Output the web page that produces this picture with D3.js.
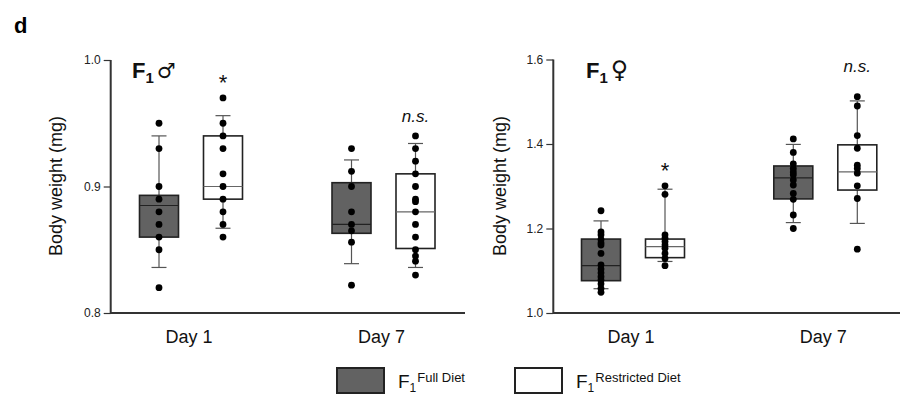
<!DOCTYPE html>
<html>
<head>
<meta charset="utf-8">
<script src="https://cdn.jsdelivr.net/npm/d3@7"></script>
<style>
  body { margin: 0; background: #fff; }
  svg { display: block; font-family: Arial, 'Liberation Sans', sans-serif; }
</style>
</head>
<body>
<div id="chart"></div>
<script>
// Categories
const days = ['Day 1', 'Day 7'];
const diets = ['Full Diet', 'Restricted Diet'];

// Box stats: [lower whisker, q1, median, q3, upper whisker]
const maleBoxD1Full = [0.836, 0.86, 0.885, 0.893, 0.94];
const maleBoxD1Restr = [0.867, 0.89, 0.9, 0.94, 0.956];
const maleBoxD7Full = [0.839, 0.863, 0.87, 0.903, 0.921];
const maleBoxD7Restr = [0.836, 0.851, 0.88, 0.91, 0.934];

const femaleBoxD1Full = [1.0575, 1.0765, 1.112, 1.175, 1.218];
const femaleBoxD1Restr = [1.122, 1.131, 1.157, 1.175, 1.293];
const femaleBoxD7Full = [1.214, 1.27, 1.32, 1.348, 1.399];
const femaleBoxD7Restr = [1.212, 1.291, 1.334, 1.398, 1.502];

// Individual body weights (mg)
const maleDotsD1Full = [0.95, 0.93, 0.9, 0.89, 0.88, 0.87, 0.86, 0.85, 0.82];
const maleDotsD1Restr = [0.97, 0.95, 0.94, 0.93, 0.91, 0.9, 0.89, 0.88, 0.87, 0.86];
const maleDotsD7Full = [0.93, 0.912, 0.9, 0.88, 0.87, 0.865, 0.856, 0.822];
const maleDotsD7Restr = [0.94, 0.93, 0.92, 0.91, 0.9, 0.89, 0.888, 0.88, 0.87, 0.86, 0.85, 0.845, 0.841, 0.83];

const femaleDotsD1Full = [1.242, 1.192, 1.185, 1.174, 1.166, 1.161, 1.141, 1.114, 1.104, 1.095, 1.086, 1.078, 1.069, 1.058, 1.049];
const femaleDotsD1Restr = [1.301, 1.281, 1.185, 1.177, 1.169, 1.161, 1.153, 1.141, 1.129, 1.112];
const femaleDotsD7Full = [1.412, 1.38, 1.353, 1.342, 1.334, 1.327, 1.315, 1.303, 1.283, 1.269, 1.232, 1.2];
const femaleDotsD7Restr = [1.512, 1.49, 1.42, 1.39, 1.35, 1.342, 1.331, 1.301, 1.271, 1.151];

// Tick labels
const maleTicks = [0.8, 0.9, 1.0];
const femaleTicks = [1.0, 1.2, 1.4, 1.6];

// Significance labels per day (restricted vs full) and the level they sit at
const maleSig = ['*', 'n.s.'];
const maleSigLevel = [0.976, 0.951];
const femaleSig = ['*', 'n.s.'];
const femaleSigLevel = [1.3195, 1.57];

const W = 900, H = 396;
const svg = d3.select('#chart').append('svg').attr('width', W).attr('height', H);

// panel letter
svg.append('text').attr('x', 14).attr('y', 33)
  .style('font-size', '22px').style('font-weight', 'bold').text('d');

function drawPanel(opts) {
  const y = d3.scaleLinear().domain(opts.domain).range([313, opts.top]);
  const x = d3.scalePoint().domain(days).range(opts.dayRange);
  const dx = d3.scalePoint().domain(diets).range([-32, 32]);
  const boxW = 39;

  const g = svg.append('g');

  // Y axis
  const yAxis = g.append('g')
    .attr('transform', 'translate(' + opts.x0 + ',0)')
    .call(d3.axisLeft(y).tickValues(opts.ticks).tickFormat(d3.format('.1f')).tickSize(7).tickSizeOuter(0));
  yAxis.select('.domain').remove();
  yAxis.selectAll('.tick line').attr('stroke', '#333').attr('stroke-width', 1.2);
  yAxis.selectAll('.tick text').attr('x', -10).style('font-size', '12px')
    .style('font-family', 'Arial, "Liberation Sans", sans-serif').attr('fill', '#222');

  // axis lines
  g.append('path')
    .attr('d', 'M' + opts.x0 + ',' + y(opts.domain[1]) + 'V' + y(opts.domain[0]) + 'H' + opts.x1)
    .attr('fill', 'none').attr('stroke', '#333').attr('stroke-width', 2);

  // X labels
  g.selectAll('.day').data(days).enter().append('text')
    .attr('x', (d) => x(d) - 2).attr('y', 343)
    .attr('text-anchor', 'middle').style('font-size', '18px').attr('fill', '#111')
    .text((d) => d);

  // Y label
  g.append('text')
    .attr('transform', 'translate(' + opts.labelX + ',186) rotate(-90)')
    .attr('text-anchor', 'middle').style('font-size', '18px').attr('fill', '#111')
    .text('Body weight (mg)');

  // Boxes
  opts.groups.forEach((grp) => {
    const cx = x(grp.day) + dx(grp.diet);
    const s = grp.box;
    const full = grp.diet === 'Full Diet';
    // whisker line
    g.append('line').attr('x1', cx).attr('x2', cx)
      .attr('y1', y(s[0])).attr('y2', y(s[4]))
      .attr('stroke', '#555').attr('stroke-width', 1.2);
    [s[0], s[4]].forEach((v) => {
      g.append('line').attr('x1', cx - 7.5).attr('x2', cx + 7.5)
        .attr('y1', y(v)).attr('y2', y(v))
        .attr('stroke', '#555').attr('stroke-width', 1.2);
    });
    g.append('rect')
      .attr('x', cx - boxW / 2).attr('width', boxW)
      .attr('y', y(s[3])).attr('height', y(s[1]) - y(s[3]))
      .attr('fill', full ? '#626262' : '#fff')
      .attr('stroke', '#222').attr('stroke-width', 1.6);
    g.append('line').attr('x1', cx - boxW / 2).attr('x2', cx + boxW / 2)
      .attr('y1', y(s[2])).attr('y2', y(s[2]))
      .attr('stroke', full ? '#222' : '#666').attr('stroke-width', 1.2);
    // dots
    g.selectAll(null).data(grp.dots).enter().append('circle')
      .attr('cx', cx).attr('cy', (d) => y(d)).attr('r', 3.4).attr('fill', '#000');
  });

  // significance
  days.forEach((d, i) => {
    const isStar = opts.sig[i] === '*';
    g.append('text')
      .attr('x', x(d) + dx('Restricted Diet'))
      .attr('y', y(opts.sigLevel[i]))
      .attr('text-anchor', 'middle')
      .style('font-size', isStar ? '22px' : '17px')
      .style('font-style', isStar ? 'normal' : 'italic')
      .attr('fill', '#111')
      .text(opts.sig[i]);
  });

  // panel title F1 + sex symbol
  const t = g.append('text').attr('x', opts.titleX).attr('y', 78).attr('fill', '#111');
  t.append('tspan').style('font-size', '22px').style('font-weight', 'bold').text('F');
  t.append('tspan').attr('dy', 5).style('font-size', '15px').style('font-weight', 'bold').text('1');
  t.append('tspan').attr('dy', -5).attr('dx', 3).style('font-size', opts.symSize)
    .style('font-family', '"DejaVu Sans", sans-serif').text(opts.symbol);
}

drawPanel({
  domain: [0.8, 1.0], top: 60, ticks: maleTicks, x0: 110.7, x1: 465,
  dayRange: [191, 383.5], labelX: 62, titleX: 132, symbol: '\u2642', symSize: '21px',
  sig: maleSig, sigLevel: maleSigLevel,
  groups: [
    { day: 'Day 1', diet: 'Full Diet', box: maleBoxD1Full, dots: maleDotsD1Full },
    { day: 'Day 1', diet: 'Restricted Diet', box: maleBoxD1Restr, dots: maleDotsD1Restr },
    { day: 'Day 7', diet: 'Full Diet', box: maleBoxD7Full, dots: maleDotsD7Full },
    { day: 'Day 7', diet: 'Restricted Diet', box: maleBoxD7Restr, dots: maleDotsD7Restr },
  ],
});

drawPanel({
  domain: [1.0, 1.6], top: 59.5, ticks: femaleTicks, x0: 553.3, x1: 900,
  dayRange: [633, 825.3], labelX: 506, titleX: 586, symbol: '\u2640', symSize: '24px',
  sig: femaleSig, sigLevel: femaleSigLevel,
  groups: [
    { day: 'Day 1', diet: 'Full Diet', box: femaleBoxD1Full, dots: femaleDotsD1Full },
    { day: 'Day 1', diet: 'Restricted Diet', box: femaleBoxD1Restr, dots: femaleDotsD1Restr },
    { day: 'Day 7', diet: 'Full Diet', box: femaleBoxD7Full, dots: femaleDotsD7Full },
    { day: 'Day 7', diet: 'Restricted Diet', box: femaleBoxD7Restr, dots: femaleDotsD7Restr },
  ],
});

// Legend
const legendX = d3.scalePoint().domain(diets).range([337, 515]);
diets.forEach((d) => {
  const lx = legendX(d);
  svg.append('rect').attr('x', lx).attr('y', 368).attr('width', 47).attr('height', 25)
    .attr('fill', d === 'Full Diet' ? '#626262' : '#fff')
    .attr('stroke', '#222').attr('stroke-width', 2);
  const t = svg.append('text').attr('x', lx + 61).attr('y', 388).attr('fill', '#111');
  t.append('tspan').style('font-size', '19px').text('F');
  t.append('tspan').attr('dy', 4).style('font-size', '12px').text('1');
  t.append('tspan').attr('dy', -10).attr('dx', 1).style('font-size', '13px').text(d);
});
</script>
</body>
</html>
